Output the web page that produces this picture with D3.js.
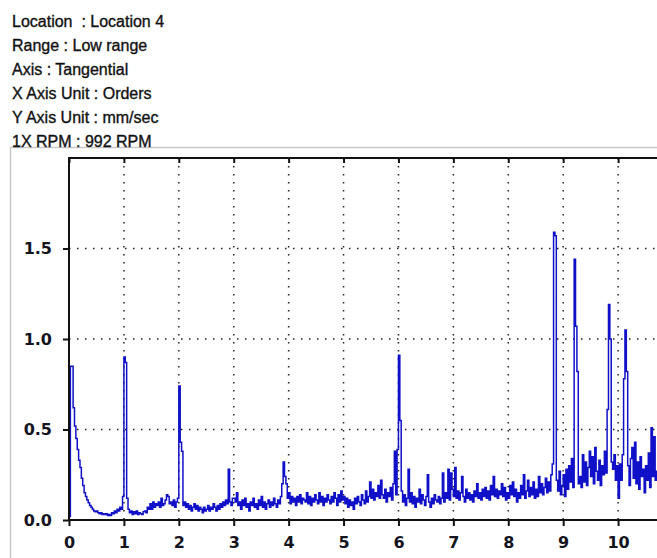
<!DOCTYPE html>
<html>
<head>
<meta charset="utf-8">
<script src="https://cdn.jsdelivr.net/npm/d3@7/dist/d3.min.js"></script>
<style>
    body { margin: 0; background: #fff; }
    .tick-label { font-family: "DejaVu Sans", Verdana, sans-serif; font-weight: bold; font-size: 16px; fill: #14141e; }
    .header { font-family: "Liberation Sans", Arial, sans-serif; font-size: 16px; fill: #111; stroke: #111; stroke-width: 0.35px; white-space: pre; }
</style>
</head>
<body>
<div id="chart"></div>
<script>
const headerLines = [
    "Location  : Location 4",
    "Range : Low range",
    "Axis : Tangential",
    "X Axis Unit : Orders",
    "Y Axis Unit : mm/sec",
    "1X RPM : 992 RPM"
];

const orderTicks = [0, 1, 2, 3, 4, 5, 6, 7, 8, 9, 10];
const ampTicks = [0, 0.5, 1.0, 1.5];
const gridAmps = [0.5, 1.0, 1.5];

// spectrum, one value every 0.025 orders, starting at order 0
const resolution = 0.025;
const amplitudes = [
    // 0 - 0.975
    0.02, 0.85, 0.85, 0.62, 0.52, 0.45, 0.39, 0.33, 0.29, 0.23,
    0.19, 0.15, 0.13, 0.11, 0.095, 0.08, 0.07, 0.06, 0.05, 0.045,
    0.05, 0.04, 0.035, 0.04, 0.03, 0.035, 0.03, 0.035, 0.025, 0.03,
    0.025, 0.04, 0.035, 0.05, 0.04, 0.06, 0.05, 0.07, 0.06, 0.13,
    // 1
    0.90, 0.87, 0.12, 0.06, 0.04, 0.05, 0.03, 0.045, 0.035, 0.05,
    0.03, 0.04, 0.035, 0.03, 0.045, 0.05, 0.04, 0.07, 0.06, 0.09,
    0.06, 0.10, 0.07, 0.09, 0.08, 0.10, 0.07, 0.12, 0.08, 0.09,
    0.11, 0.14, 0.13, 0.09, 0.10, 0.08, 0.11, 0.07, 0.10, 0.12,
    // 2
    0.74, 0.43, 0.38, 0.08, 0.10, 0.07, 0.09, 0.06, 0.08, 0.05,
    0.07, 0.09, 0.06, 0.08, 0.05, 0.07, 0.06, 0.04, 0.07, 0.05,
    0.06, 0.08, 0.05, 0.07, 0.06, 0.09, 0.07, 0.05, 0.08, 0.06,
    0.09, 0.07, 0.10, 0.08, 0.11, 0.09, 0.28, 0.10, 0.08, 0.12,
    // 3
    0.12, 0.10, 0.15, 0.08, 0.10, 0.06, 0.11, 0.08, 0.12, 0.07,
    0.09, 0.05, 0.10, 0.08, 0.12, 0.07, 0.09, 0.06, 0.11, 0.08,
    0.13, 0.07, 0.10, 0.06, 0.09, 0.11, 0.07, 0.10, 0.08, 0.12,
    0.09, 0.07, 0.11, 0.09, 0.13, 0.20, 0.32, 0.24, 0.20, 0.12,
    // 4
    0.15, 0.09, 0.13, 0.10, 0.12, 0.08, 0.13, 0.10, 0.14, 0.09,
    0.12, 0.11, 0.10, 0.15, 0.09, 0.13, 0.08, 0.12, 0.10, 0.14,
    0.11, 0.09, 0.15, 0.10, 0.13, 0.08, 0.12, 0.10, 0.14, 0.11,
    0.09, 0.13, 0.10, 0.15, 0.12, 0.08, 0.14, 0.10, 0.16, 0.11,
    // 5
    0.13, 0.09, 0.12, 0.07, 0.11, 0.08, 0.10, 0.06, 0.12, 0.09,
    0.13, 0.10, 0.08, 0.14, 0.11, 0.09, 0.16, 0.10, 0.13, 0.21,
    0.12, 0.17, 0.11, 0.15, 0.13, 0.19, 0.12, 0.22, 0.14, 0.12,
    0.17, 0.10, 0.15, 0.13, 0.18, 0.11, 0.20, 0.38, 0.14, 0.39,
    // 6
    0.91, 0.55, 0.16, 0.10, 0.14, 0.08, 0.12, 0.28, 0.10, 0.15,
    0.09, 0.13, 0.07, 0.12, 0.10, 0.17, 0.09, 0.14, 0.11, 0.08,
    0.13, 0.25, 0.10, 0.07, 0.12, 0.09, 0.14, 0.11, 0.10, 0.13,
    0.09, 0.12, 0.26, 0.10, 0.15, 0.12, 0.28, 0.11, 0.26, 0.17,
    // 7
    0.13, 0.29, 0.12, 0.16, 0.11, 0.15, 0.24, 0.13, 0.10, 0.17,
    0.12, 0.15, 0.11, 0.14, 0.10, 0.16, 0.13, 0.20, 0.12, 0.15,
    0.11, 0.17, 0.13, 0.18, 0.12, 0.16, 0.11, 0.19, 0.14, 0.24,
    0.13, 0.17, 0.12, 0.16, 0.14, 0.20, 0.13, 0.18, 0.11, 0.15,
    // 8
    0.12, 0.19, 0.14, 0.21, 0.13, 0.17, 0.10, 0.15, 0.12, 0.19,
    0.14, 0.25, 0.12, 0.16, 0.22, 0.13, 0.18, 0.14, 0.21, 0.12,
    0.17, 0.13, 0.24, 0.15, 0.20, 0.14, 0.18, 0.23, 0.15, 0.21,
    0.16, 0.25, 0.31, 1.59, 1.57, 0.22, 0.16, 0.27, 0.14, 0.19,
    // 9
    0.25, 0.13, 0.28, 0.17, 0.30, 0.21, 0.34, 0.18, 1.44, 1.07,
    0.82, 0.20, 0.24, 0.18, 0.36, 0.21, 0.32, 0.19, 0.29, 0.38,
    0.24, 0.35, 0.20, 0.40, 0.27, 0.22, 0.33, 0.19, 0.30, 0.25,
    0.38, 0.26, 0.61, 1.19, 1.00, 0.32, 0.28, 0.36, 0.22, 0.30,
    // 10
    0.12, 0.31, 0.22, 0.36, 0.78, 1.05, 0.82, 0.30, 0.19, 0.34,
    0.40, 0.23, 0.43, 0.20, 0.32, 0.17, 0.35, 0.24, 0.28, 0.15,
    0.30, 0.22, 0.37, 0.18, 0.51, 0.24, 0.46, 0.22, 0.27, 0.19,
    0.30, 0.25, 0.28, 0.20
];

const W = 657, H = 558;

const svg = d3.select("#chart")
    .append("svg")
    .attr("width", W)
    .attr("height", H);

const x = d3.scaleLinear().domain([0, 11]).range([69, 673]);
const y = d3.scaleLinear().domain([0, 2]).range([520, 158]);

// outer gray frame
svg.append("rect")
    .attr("x", 10.5)
    .attr("y", 147.5)
    .attr("width", 700)
    .attr("height", 500)
    .attr("fill", "#fff")
    .attr("stroke", "#c8c8c8")
    .attr("stroke-width", 1.5);

// header block
svg.selectAll(".header")
    .data(headerLines)
    .join("text")
    .attr("class", "header")
    .attr("x", 12)
    .attr("y", (d, i) => 27 + i * 24)
    .text(d => d);

// dotted grid
const grid = svg.append("g")
    .attr("stroke", "#222")
    .attr("stroke-width", 1.5)
    .attr("stroke-dasharray", "1.5,6.5");

grid.selectAll(".vgrid")
    .data(orderTicks.filter(d => d > 0))
    .join("line")
    .attr("x1", d => x(d))
    .attr("x2", d => x(d))
    .attr("y1", y(2))
    .attr("y2", y(0));

grid.selectAll(".hgrid")
    .data(gridAmps)
    .join("line")
    .attr("x1", x(0))
    .attr("x2", W)
    .attr("y1", d => y(d))
    .attr("y2", d => y(d));

// spectrum trace
const line = d3.line()
    .x((d, i) => x(i * resolution))
    .y(d => y(d))
    .curve(d3.curveStepAfter);

svg.append("path")
    .datum(amplitudes)
    .attr("fill", "none")
    .attr("stroke", "#1010c8")
    .attr("stroke-width", 1.5)
    .attr("d", line);

// axes
const bottomAxis = svg.append("g")
    .attr("transform", `translate(0,${y(0)})`)
    .call(d3.axisBottom(x).tickValues(orderTicks).tickSize(6).tickPadding(11).tickFormat(d3.format("d")));

const leftAxis = svg.append("g")
    .attr("transform", `translate(${x(0)},0)`)
    .call(d3.axisLeft(y).tickValues(ampTicks).tickSize(6).tickPadding(11).tickFormat(d3.format(".1f")));

const topAxis = svg.append("g")
    .attr("transform", `translate(0,${y(2)})`)
    .call(d3.axisTop(x).tickValues(orderTicks).tickSize(-5).tickFormat(""));

[bottomAxis, leftAxis, topAxis].forEach(a => {
    a.select(".domain").remove();
    a.selectAll(".tick line").attr("stroke", "#111").attr("stroke-width", 2);
    a.selectAll(".tick text").attr("class", "tick-label").attr("font-size", null).attr("font-family", null);
});

// plot frame lines
const frame = svg.append("g").attr("stroke", "#111").attr("stroke-width", 2);
frame.append("line").attr("x1", x(0)).attr("x2", W).attr("y1", y(0)).attr("y2", y(0));
frame.append("line").attr("x1", x(0)).attr("x2", W).attr("y1", y(2)).attr("y2", y(2));
frame.append("line").attr("x1", x(0)).attr("x2", x(0)).attr("y1", y(2) - 1).attr("y2", y(0) + 1);
</script>
</body>
</html>
